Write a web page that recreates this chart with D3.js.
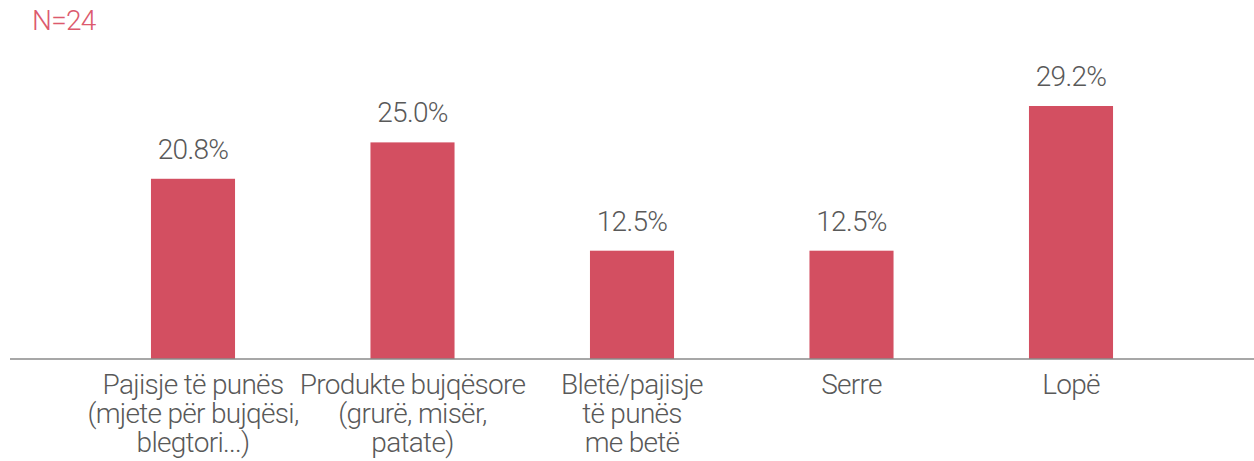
<!DOCTYPE html>
<html>
<head>
<meta charset="utf-8">
<script src="https://cdn.jsdelivr.net/npm/d3@7"></script>
<style>
  html, body { margin: 0; padding: 0; background: #fff; }
  svg { display: block; }
  text { font-family: "Roboto", sans-serif; font-weight: 300; letter-spacing: -0.7px; }
</style>
</head>
<body>
<svg id="chart" width="1254" height="461"></svg>
<script>
// Category labels (one entry per line of the wrapped label)
const categories = [
  ["Pajisje të punës", "(mjete për bujqësi,", "blegtori...)"],
  ["Produkte bujqësore", "(grurë, misër,", "patate)"],
  ["Bletë/pajisje", "të punës", "me betë"],
  ["Serre"],
  ["Lopë"]
];
// Share of respondents, percent
const values = [20.8, 25.0, 12.5, 12.5, 29.2];
const sampleLabel = "N=24";

const svg = d3.select("#chart");
const W = 1254, H = 461;
const baseline = 359;

const keys = categories.map((c, i) => i);

const x = d3.scaleBand()
  .domain(keys)
  .range([83.25, 1180.75])
  .paddingInner(0.617)
  .paddingOuter(0.3085);

const y = d3.scaleLinear()
  .domain([0, 29.2])
  .range([baseline, 106]);

// bars
svg.append("g").selectAll("rect")
  .data(values)
  .join("rect")
  .attr("x", (d, i) => x(i))
  .attr("y", d => y(d))
  .attr("width", x.bandwidth())
  .attr("height", d => baseline - y(d))
  .attr("fill", "#d34f61");

// value labels
svg.append("g").selectAll("text")
  .data(values)
  .join("text")
  .attr("x", (d, i) => x(i) + x.bandwidth() / 2)
  .attr("y", d => y(d) - 20)
  .attr("text-anchor", "middle")
  .attr("font-size", 28)
  .attr("fill", "#595959")
  .text(d => d.toFixed(1) + "%");

// baseline axis
const xAxis = d3.axisBottom(x).tickSize(0).tickFormat("");
const axisG = svg.append("g")
  .attr("transform", `translate(0,${baseline})`)
  .call(xAxis);
axisG.select(".domain")
  .attr("d", `M10,0H${W}`)
  .attr("stroke", "#8a8a8a")
  .attr("stroke-width", 1.5);

// category labels
const catG = svg.append("g").selectAll("text")
  .data(categories)
  .join("text")
  .attr("x", (d, i) => x(i) + x.bandwidth() / 2)
  .attr("y", baseline + 35)
  .attr("text-anchor", "middle")
  .attr("font-size", 28)
  .attr("fill", "#595959");
catG.selectAll("tspan")
  .data(d => d)
  .join("tspan")
  .attr("x", function () { return this.parentNode.getAttribute("x"); })
  .attr("dy", (d, j) => j === 0 ? 0 : 29)
  .text(d => d);

// sample size note
svg.append("text")
  .attr("x", 32)
  .attr("y", 30)
  .attr("font-size", 28)
  .attr("fill", "#dc5a6e")
  .text(sampleLabel);
</script>
</body>
</html>
